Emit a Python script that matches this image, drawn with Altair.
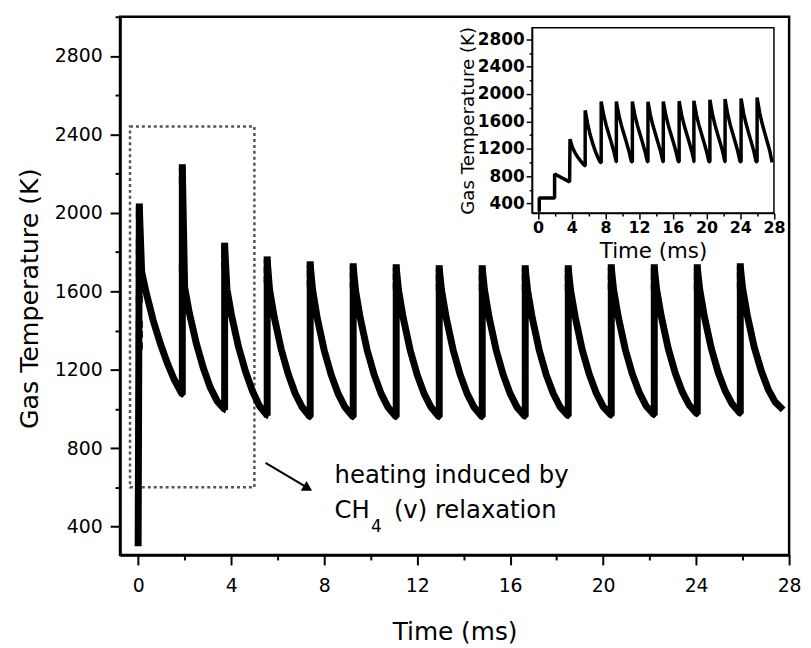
import altair as alt
import pandas as pd

# ---------------- main series ----------------
start_K = 300
spike_t = [0.05, 1.90, 3.72, 5.55, 7.40, 9.25, 11.10, 12.95, 14.80, 16.65, 18.50, 20.35, 22.20, 24.05, 25.90]
spike_peak = [2030, 2230, 1830, 1760, 1735, 1725, 1720, 1715, 1715, 1715, 1715, 1720, 1720, 1720, 1725]
decay_dt = [0.10, 0.30, 0.60, 0.90, 1.20, 1.50, 1.84]
decay_K = [
    [1700, 1590, 1450, 1335, 1235, 1150, 1075],
    [1620, 1490, 1335, 1210, 1110, 1040, 995],
    [1610, 1475, 1315, 1190, 1090, 1015, 965],
    [1610, 1470, 1305, 1180, 1080, 1010, 960],
    [1610, 1465, 1300, 1175, 1078, 1008, 960],
    [1605, 1465, 1300, 1175, 1078, 1008, 960],
    [1605, 1465, 1300, 1175, 1078, 1008, 960],
    [1605, 1465, 1300, 1175, 1078, 1008, 960],
    [1605, 1465, 1300, 1175, 1078, 1008, 962],
    [1605, 1465, 1300, 1175, 1080, 1010, 965],
    [1605, 1468, 1302, 1178, 1082, 1012, 968],
    [1608, 1470, 1305, 1180, 1085, 1015, 970],
    [1610, 1472, 1308, 1183, 1088, 1020, 975],
    [1612, 1474, 1310, 1186, 1092, 1025, 978],
    [1615, 1478, 1315, 1195, 1100, 1035, 995],
]
spike_marks = [
    [2030, 1990, 1850, 1800, 1740, 1690, 1560, 1430, 1380, 1320],
    [2230, 2170, 1720],
    [1830, 1785, 1735],
    [1760, 1710, 1660],
    [1735, 1690, 1640],
    [1725, 1680, 1630],
    [1720, 1675, 1625],
    [1715, 1670, 1620],
    [1715, 1670, 1620],
    [1715, 1670, 1620],
    [1715, 1670, 1620],
    [1720, 1675, 1625],
    [1720, 1675, 1625],
    [1720, 1675, 1625],
    [1725, 1680, 1630],
]

# ---------------- inset series ----------------
inset_pre_t = [0.00, 0.15, 0.15, 1.97, 1.97, 3.75]
inset_pre_K = [290, 290, 480, 480, 830, 715]
inset_spike_t = [3.80, 5.60, 7.50, 9.30, 11.20, 13.05, 14.87, 16.75, 18.50, 20.40, 22.20, 24.10, 26.00]
inset_peak = [1340, 1760, 1890, 1890, 1890, 1885, 1890, 1895, 1900, 1915, 1925, 1935, 1950]
inset_dt = [0.30, 0.60, 0.90, 1.20, 1.50, 1.78]
inset_decay = [
    [1215, 1140, 1080, 1030, 985, 950],
    [1560, 1400, 1275, 1165, 1075, 1000],
    [1690, 1540, 1415, 1290, 1160, 1010],
    [1690, 1540, 1415, 1290, 1160, 1010],
    [1690, 1540, 1415, 1290, 1160, 1010],
    [1685, 1535, 1410, 1285, 1158, 1010],
    [1690, 1540, 1415, 1290, 1160, 1010],
    [1692, 1542, 1416, 1290, 1160, 1010],
    [1695, 1545, 1418, 1292, 1162, 1010],
    [1705, 1550, 1420, 1295, 1165, 1010],
    [1712, 1555, 1425, 1298, 1166, 1010],
    [1718, 1560, 1428, 1300, 1168, 1010],
    [1728, 1568, 1432, 1302, 1170, 1000],
]

# ---------------- build tables ----------------
rows = [(0.0, start_K)]
for k, t0 in enumerate(spike_t):
    if k > 0:
        rows.append((t0, decay_K[k - 1][-1]))
    rows.append((t0, spike_peak[k]))
    for dt, v in zip(decay_dt, decay_K[k]):
        rows.append((t0 + dt, v))
main_df = pd.DataFrame(rows, columns=["t", "K"])
main_df["i"] = range(len(main_df))

mrows = []
for k, t0 in enumerate(spike_t):
    for v in spike_marks[k]:
        mrows.append((t0, v))
marks_df = pd.DataFrame(mrows, columns=["t", "K"])

irows = list(zip(inset_pre_t, inset_pre_K))
for k, t0 in enumerate(inset_spike_t):
    if k > 0:
        irows.append((t0, inset_decay[k - 1][-1]))
    irows.append((t0, inset_peak[k]))
    for dt, v in zip(inset_dt, inset_decay[k]):
        irows.append((t0 + dt, v))
inset_df = pd.DataFrame(irows, columns=["t", "K"])
inset_df["i"] = range(len(inset_df))

FONT = "DejaVu Sans"

# ---------------- main scales / axes ----------------
mx_scale = alt.Scale(domain=[-0.78, 28], nice=False, zero=False)
my_scale = alt.Scale(domain=[255, 3000], nice=False, zero=False)

main_x_axis = alt.Axis(
    values=list(range(0, 29, 2)), format="d",
    labelExpr="datum.value % 4 === 0 ? datum.label : ''",
    tickSize={"condition": {"test": "datum.value % 4 === 0", "value": 10}, "value": 5},
    orient="bottom", labelFontSize=19, labelPadding=12, labelFlush=False, labelOverlap=False,
    title="Time (ms)", titleFontSize=25, titlePadding=24, grid=False,
    domainWidth=2.5, tickWidth=2,
)
main_y_axis = alt.Axis(
    values=list(range(400, 3001, 200)), format="d",
    labelExpr="datum.value % 400 === 0 && datum.value < 3000 ? datum.label : ''",
    tickSize={"condition": {"test": "datum.value % 400 === 0 && datum.value < 3000", "value": 10}, "value": 5},
    orient="left", labelFontSize=19, labelPadding=8, labelOverlap=False,
    title="Gas Temperature (K)", titleFontSize=25.5, titlePadding=12, titleY=284, grid=False,
    domainWidth=2.5, tickWidth=2,
)

MX = alt.X("t:Q", scale=mx_scale, axis=main_x_axis)
MY = alt.Y("K:Q", scale=my_scale, axis=main_y_axis)

main_line = alt.Chart(main_df).mark_line(color="black", strokeWidth=7, strokeJoin="bevel").encode(
    x=MX, y=MY, order="i:Q")
main_pts = alt.Chart(marks_df).mark_point(shape="square", filled=True, size=50, color="black", opacity=1).encode(
    x=MX, y=MY)

box_df = pd.DataFrame({"t": [-0.35], "t2": [5.0], "K": [600], "K2": [2440]})
box = alt.Chart(box_df).mark_rect(fillOpacity=0, stroke="#555555", strokeWidth=2.5, strokeDash=[3, 3]).encode(
    x=MX, x2="t2:Q", y=MY, y2="K2:Q")

arrow_df = pd.DataFrame({"t": [5.48], "t2": [7.40], "K": [725], "K2": [590]})
arrow = alt.Chart(arrow_df).mark_rule(color="black", strokeWidth=2).encode(
    x=MX, x2="t2:Q", y=MY, y2="K2:Q")
head_df = pd.DataFrame({"t": [7.30], "K": [595]})
head = alt.Chart(head_df).mark_point(shape="triangle-right", filled=True, size=130, angle=31,
                                     color="black", opacity=1).encode(x=MX, y=MY)

txt_df = pd.DataFrame({
    "t": [8.45, 8.45, 11.0],
    "K": [620, 442, 442],
    "s": ["heating induced by", "CH", "(v) relaxation"],
})
txt = alt.Chart(txt_df).mark_text(align="left", baseline="alphabetic", fontSize=24.5, font=FONT,
                                  color="black").encode(x=MX, y=MY, text="s:N")
sub_df = pd.DataFrame({"t": [10.02], "K": [371], "s": ["4"]})
sub = alt.Chart(sub_df).mark_text(align="left", baseline="alphabetic", fontSize=17, font=FONT,
                                  color="black").encode(x=MX, y=MY, text="s:N")

main = alt.layer(box, main_line, main_pts, arrow, head, txt, sub)

# ---------------- inset ----------------
ix_scale = alt.Scale(domain=[-0.7, 28], range=[415.7, 659.7], nice=False, zero=False)
iy_scale = alt.Scale(domain=[260, 2970], range=[198, 11], nice=False, zero=False)

inset_x_axis = alt.Axis(
    values=list(range(0, 29, 2)), format="d",
    labelExpr="datum.value % 4 === 0 ? datum.label : ''",
    tickSize={"condition": {"test": "datum.value % 4 === 0", "value": 6}, "value": 3},
    orient="bottom", offset=-345, labelFontSize=16, labelFontWeight="bold", labelPadding=1,
    labelFlush=False, labelOverlap=False,
    title="Time (ms)", titleFontSize=21.5, titlePadding=5, grid=False,
    domainWidth=1.5, tickWidth=1.5,
)
inset_y_axis = alt.Axis(
    values=list(range(400, 2801, 200)), format="d",
    labelExpr="datum.value % 400 === 0 ? datum.label : ''",
    tickSize={"condition": {"test": "datum.value % 400 === 0", "value": 6}, "value": 3},
    orient="left", offset=-415.7, labelFontSize=17, labelFontWeight="bold", labelPadding=2,
    labelOverlap=False,
    title="Gas Temperature (K)", titleFontSize=18.4, titlePadding=0, grid=False,
    domainWidth=1.5, tickWidth=1.5,
)
IX = alt.X("t:Q", scale=ix_scale, axis=inset_x_axis)
IY = alt.Y("K:Q", scale=iy_scale, axis=inset_y_axis)

frame_df = pd.DataFrame({"t": [-0.7], "t2": [28], "K": [260], "K2": [2970]})
inset_frame = alt.Chart(frame_df).mark_rect(fillOpacity=0, stroke="black", strokeWidth=1.5).encode(
    x=IX, x2="t2:Q", y=IY, y2="K2:Q")
inset_line = alt.Chart(inset_df).mark_line(color="black", strokeWidth=3.5, strokeJoin="bevel").encode(
    x=IX, y=IY, order="i:Q")

inset = alt.layer(inset_frame, inset_line)

chart = alt.layer(main, inset).resolve_scale(x="independent", y="independent").properties(
    width=675, height=543,
    autosize="none",
    padding={"left": 113, "top": 6, "right": 14, "bottom": 90},
).configure_view(stroke="black", strokeWidth=2.5).configure_axis(
    labelFont=FONT, titleFont=FONT, labelColor="black", titleColor="black",
    domainColor="black", tickColor="black", titleFontWeight="normal",
)

chart.save("out.html", embed_options={"renderer": "svg", "actions": False})
